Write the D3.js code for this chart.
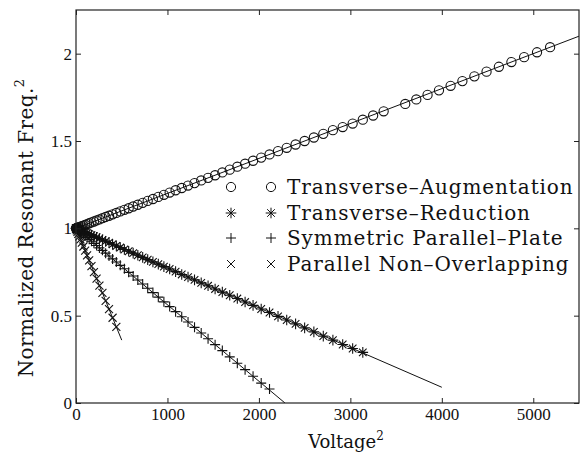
<!DOCTYPE html>
<html>
<head>
<meta charset="utf-8">
<script src="https://cdn.jsdelivr.net/npm/d3@7/dist/d3.min.js"></script>
<style>
body { margin: 0; background: #fff; }
</style>
</head>
<body>
<div id="chart"></div>
<script>
// Transverse-Augmentation (circles)
var augX = [0, 1, 4, 9, 16, 25, 36, 49, 64, 81, 100, 121, 144, 169, 196, 225, 256, 289, 324, 361,
    400, 441, 484, 529, 576, 625, 676, 729, 784, 841, 900, 961, 1024, 1089, 1156, 1225, 1296, 1369,
    1444, 1521, 1600, 1681, 1764, 1849, 1936, 2025, 2116, 2209, 2304, 2401, 2500, 2601, 2704, 2809,
    2916, 3025, 3136, 3249, 3364, 3600, 3721, 3844, 3969, 4096, 4225, 4356, 4489, 4624, 4761, 4900,
    5041, 5184];
var augY = [1.000, 1.000, 1.001, 1.002, 1.003, 1.005, 1.007, 1.010, 1.013, 1.016, 1.020, 1.024, 1.029,
    1.034, 1.039, 1.045, 1.051, 1.058, 1.065, 1.072, 1.080, 1.088, 1.097, 1.106, 1.115, 1.125, 1.135,
    1.146, 1.157, 1.168, 1.180, 1.192, 1.205, 1.218, 1.231, 1.245, 1.259, 1.274, 1.289, 1.304, 1.320,
    1.336, 1.353, 1.370, 1.387, 1.405, 1.423, 1.442, 1.461, 1.480, 1.500, 1.520, 1.541, 1.562, 1.580,
    1.600, 1.622, 1.646, 1.670, 1.712, 1.738, 1.764, 1.790, 1.816, 1.843, 1.870, 1.897, 1.925, 1.952,
    1.980, 2.008, 2.037];

// Transverse-Reduction (asterisks)
var redX = [0, 1, 4, 9, 16, 25, 36, 49, 64, 81, 100, 121, 144, 169, 196, 225, 256, 289, 324, 361,
    400, 441, 484, 529, 576, 625, 676, 729, 784, 841, 900, 961, 1024, 1089, 1156, 1225, 1296, 1369,
    1444, 1521, 1600, 1681, 1764, 1849, 1936, 2025, 2116, 2209, 2304, 2401, 2500, 2601, 2704, 2809,
    2916, 3025, 3136];
var redY = [1.000, 1.000, 0.999, 0.998, 0.996, 0.994, 0.992, 0.989, 0.985, 0.982, 0.977, 0.972, 0.967,
    0.961, 0.955, 0.949, 0.942, 0.934, 0.926, 0.918, 0.909, 0.899, 0.890, 0.879, 0.869, 0.858, 0.846,
    0.834, 0.821, 0.808, 0.795, 0.781, 0.767, 0.752, 0.736, 0.721, 0.705, 0.688, 0.671, 0.653, 0.635,
    0.617, 0.598, 0.578, 0.559, 0.538, 0.518, 0.496, 0.475, 0.453, 0.430, 0.407, 0.383, 0.360, 0.335,
    0.312, 0.290];

// Symmetric Parallel-Plate (plus)
var symX = [0, 1, 4, 9, 16, 25, 36, 49, 64, 81, 100, 121, 144, 169, 196, 225, 256, 289, 324, 361,
    400, 441, 484, 529, 576, 625, 676, 729, 784, 841, 900, 961, 1024, 1089, 1156, 1225, 1296, 1369,
    1444, 1521, 1600, 1681, 1764, 1849, 1936, 2025, 2116];
var symY = [1.000, 1.000, 0.998, 0.996, 0.993, 0.989, 0.984, 0.979, 0.972, 0.965, 0.956, 0.947, 0.937,
    0.926, 0.914, 0.902, 0.888, 0.874, 0.858, 0.842, 0.825, 0.807, 0.788, 0.769, 0.748, 0.727, 0.704,
    0.681, 0.657, 0.632, 0.606, 0.579, 0.552, 0.523, 0.494, 0.464, 0.433, 0.401, 0.368, 0.334, 0.300,
    0.264, 0.228, 0.191, 0.153, 0.114, 0.080];

// Parallel Non-Overlapping (cross)
var nonX = [0, 1, 4, 9, 16, 25, 36, 49, 64, 81, 100, 121, 144, 169, 196, 225, 256, 289, 324, 361,
    400, 441];
var nonY = [1.000, 0.999, 0.995, 0.988, 0.980, 0.968, 0.954, 0.937, 0.918, 0.896, 0.872, 0.845, 0.816,
    0.784, 0.749, 0.712, 0.672, 0.630, 0.585, 0.538, 0.488, 0.436];

// fitted lines: [x start, y start, x end, y end]
var augFit = [0, 1, 5500, 2.1];
var redFit = [0, 1, 4000, 0.09];
var symFit = [0, 1, 2285, 0];
var nonFit = [0, 1, 500, 0.36];

var legendNames = ["Transverse\u2013Augmentation", "Transverse\u2013Reduction",
    "Symmetric Parallel\u2013Plate", "Parallel Non\u2013Overlapping"];
var xTicks = [0, 1000, 2000, 3000, 4000, 5000];
var yTicks = [0, 0.5, 1, 1.5, 2];

var W = 582, H = 461;
var pLeft = 76, pRight = 579, pTop = 10, pBottom = 403;

var svg = d3.select("#chart").append("svg").attr("width", W).attr("height", H)
    .style("background", "#ffffff");

var x = d3.scaleLinear().domain([0, 5500]).range([pLeft, pRight]);
var y = d3.scaleLinear().domain([0, 2.25]).range([pBottom, pTop]);

var serif = "'Liberation Serif', 'Times New Roman', serif";
var wideSerif = "'DejaVu Serif', serif";

function markerPath(type) {
    if (type == "circle") return d3.symbol().type(d3.symbolCircle).size(Math.PI * 4.6 * 4.6)();
    if (type == "plus") return "M-5,0H5M0,-5V5";
    if (type == "cross") return "M-4,-4L4,4M-4,4L4,-4";
    // asterisk
    return "M-5.3,0H5.3M0,-5.3V5.3M-3.8,-3.8L3.8,3.8M-3.8,3.8L3.8,-3.8";
}

var series = [
    {xs: augX, ys: augY, fit: augFit, marker: "circle"},
    {xs: redX, ys: redY, fit: redFit, marker: "star"},
    {xs: symX, ys: symY, fit: symFit, marker: "plus"},
    {xs: nonX, ys: nonY, fit: nonFit, marker: "cross"}
];

var plot = svg.append("g");
plot.append("clipPath").attr("id", "clip").append("rect")
    .attr("x", pLeft).attr("y", pTop).attr("width", pRight - pLeft).attr("height", pBottom - pTop);

series.forEach(function (s) {
    plot.append("line").attr("clip-path", "url(#clip)")
        .attr("x1", x(s.fit[0])).attr("y1", y(s.fit[1]))
        .attr("x2", x(s.fit[2])).attr("y2", y(s.fit[3]))
        .attr("stroke", "#111").attr("stroke-width", 1);
    var pts = s.xs.map(function (v, i) { return [v, s.ys[i]]; });
    plot.append("g").selectAll("path").data(pts).enter().append("path")
        .attr("transform", function (d) { return "translate(" + x(d[0]) + "," + y(d[1]) + ")"; })
        .attr("d", markerPath(s.marker))
        .attr("fill", "none").attr("stroke", "#111").attr("stroke-width", 1.1);
});

// axes, ticks pointing inwards on all four sides
function styleAxis(g) {
    g.select(".domain").remove();
    g.selectAll(".tick line").attr("stroke", "#222");
    g.selectAll("text").attr("font-family", serif).attr("font-size", 17).attr("fill", "#111");
}
svg.append("g").attr("transform", "translate(0," + pBottom + ")")
    .call(d3.axisBottom(x).tickValues(xTicks).tickSizeInner(-5).tickSizeOuter(0).tickPadding(5)
        .tickFormat(d3.format("d")))
    .call(styleAxis);
svg.append("g").attr("transform", "translate(0," + pTop + ")")
    .call(d3.axisTop(x).tickValues(xTicks).tickSizeInner(-5).tickSizeOuter(0).tickFormat(""))
    .call(styleAxis);
svg.append("g").attr("transform", "translate(" + pLeft + ",0)")
    .call(d3.axisLeft(y).tickValues(yTicks).tickSizeInner(-5).tickSizeOuter(0).tickPadding(4)
        .tickFormat(d3.format("")))
    .call(styleAxis);
svg.append("g").attr("transform", "translate(" + pRight + ",0)")
    .call(d3.axisRight(y).tickValues(yTicks).tickSizeInner(-5).tickSizeOuter(0).tickFormat(""))
    .call(styleAxis);

svg.append("rect").attr("x", pLeft).attr("y", pTop).attr("width", pRight - pLeft).attr("height", pBottom - pTop)
    .attr("fill", "none").attr("stroke", "#222").attr("stroke-width", 1.2);

// axis labels
var xl = svg.append("text").attr("x", 346).attr("y", 448)
    .attr("text-anchor", "middle").attr("font-family", wideSerif).attr("font-size", 18).attr("fill", "#111");
xl.append("tspan").text("Voltage");
xl.append("tspan").attr("font-size", 12).attr("dy", -8).text("2");

var yl = svg.append("text").attr("transform", "translate(33,228) rotate(-90)")
    .attr("text-anchor", "middle").attr("font-family", wideSerif).attr("font-size", 20)
    .attr("letter-spacing", 0.4).attr("fill", "#111");
yl.append("tspan").text("Normalized Resonant Freq.");
yl.append("tspan").attr("font-size", 13).attr("dy", -9).text("2");

// legend
var legendY = [187, 213, 238, 264];
var lg = svg.append("g");
series.forEach(function (s, i) {
    [231, 271].forEach(function (mx) {
        lg.append("path").attr("transform", "translate(" + mx + "," + legendY[i] + ")")
            .attr("d", markerPath(s.marker)).attr("fill", "none").attr("stroke", "#111");
    });
    lg.append("text").attr("x", 287).attr("y", legendY[i]).attr("dy", "0.35em")
        .attr("font-family", wideSerif).attr("font-size", 20).attr("letter-spacing", 0.9)
        .attr("fill", "#111").text(legendNames[i]);
});
</script>
</body>
</html>
